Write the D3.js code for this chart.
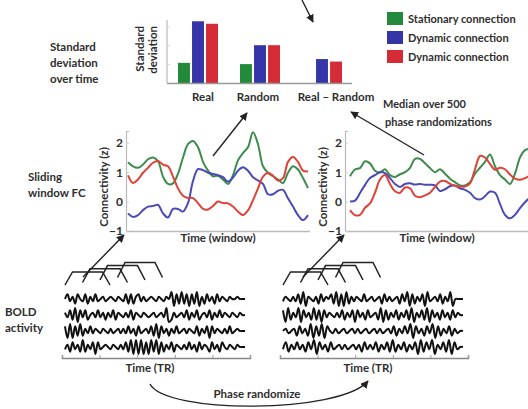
<!DOCTYPE html>
<html>
<head>
<meta charset="utf-8">
<style>
  body { margin: 0; background: #fff; }
  text { font-family: Lato, "Open Sans", sans-serif; font-weight: 700; fill: #2e2e2e; }
</style>
<script src="https://d3js.org/d3.v7.min.js"></script>
</head>
<body>
<script>
// ---- data ----
var groups = ["Real", "Random", "Real \u2013 Random"];
var series = ["Stationary connection", "Dynamic connection", "Dynamic connection "];
var seriesColors = ["#238a3c", "#3535a8", "#d42b37"];
var lineColors = ["#3f8b4c", "#4a4ab6", "#df4236"];
// standard deviation bars (relative units), one array per group
var sdReal = [0.32, 0.98, 0.94];
var sdRandom = [0.30, 0.60, 0.60];
var sdDiff = [0, 0.38, 0.34];
var groupLabelShift = [5, -2, 7];

// sliding window connectivity, real data
var realGreen = [1.34,1.2,1.15,1.26,1.44,1.5,1.38,0.85,0.6,0.62,0.95,1.5,1.95,2.06,1.85,1.35,1.05,0.86,0.88,0.75,0.6,0.9,1.4,1.65,1.85,2.36,1.95,1.2,0.98,0.86,0.75,0.63,0.98,1.2,1.09,0.8,0.46];
var realBlue = [-0.4,-0.52,-0.46,-0.29,-0.17,-0.15,-0.11,-0.4,-0.54,-0.25,-0.25,-0.34,-0.05,0.7,1.1,1.07,0.98,0.94,0.9,0.83,0.68,0.82,1.05,1.17,1.05,0.83,0.72,0.6,0.25,0.25,0.37,0.4,0.11,-0.17,-0.46,-0.63,-0.46];
var realRed = [0.89,0.63,0.75,0.98,1.15,1.32,1.38,1.26,1.2,0.85,0.45,0.2,0.12,0.12,-0.05,-0.25,-0.27,-0.15,0.0,-0.05,-0.06,-0.17,-0.34,-0.46,-0.3,0.05,0.45,0.85,0.97,0.88,0.72,0.8,1.35,1.52,1.35,1.05,1.03];
// sliding window connectivity, phase randomized
var randGreen = [0.86,1.09,1.14,1.37,1.3,1.05,0.99,1.1,0.9,0.84,0.93,1.0,1.15,1.45,1.45,1.3,1.14,1.0,1.1,0.95,0.78,0.66,0.55,0.55,0.66,0.95,1.15,1.35,1.6,1.2,0.9,0.75,0.6,0.95,1.5,1.75,1.8];
var randBlue = [0.0,0.03,0.29,0.57,0.8,0.9,1.0,0.97,0.8,0.6,0.5,0.6,0.62,0.58,0.6,0.57,0.57,0.55,0.36,0.42,0.52,0.55,0.45,0.4,0.3,0.12,0.07,0.18,0.34,0.3,-0.08,-0.45,-0.57,-0.45,-0.22,-0.02,0.13];
var randRed = [-0.29,-0.46,-0.45,-0.21,-0.06,0.3,0.75,0.9,0.6,0.35,0.3,0.48,0.45,0.2,0.15,0.21,0.3,0.5,0.68,0.7,0.6,0.53,0.51,0.51,0.62,1.1,1.55,1.5,1.28,1.08,1.15,1.1,0.92,0.78,0.74,0.8,0.88];
var connTicks = [-1, 0, 1, 2];

// BOLD traces (arbitrary units)
var boldReal = [
  [0,2,-1,1,-2,2,0,-1,2,-2,1,-1,2,-1,0,1,-1,0,1,0,-1,1,0,-1,2,-2,2,-2,1,2,-1,1,-1,0,1,0,-1,1,0,-1,1,0,3,-3,2,-2,3,-2,2,-3,2,-2,3,-3,1,-2,2,-1,1,-2,2,-1,1,0,-1,1,0,0,1,0,0,0],
  [1,-1,2,-2,3,-3,2,-1,2,-2,0,1,-1,2,-1,1,-2,1,-1,2,-2,1,0,-1,1,-1,2,-2,1,0,-1,1,0,-1,0,1,-1,0,1,-1,3,-3,-2,1,-1,0,1,-1,2,-2,1,-1,2,-2,0,1,-1,2,-2,1,-1,2,-1,1,0,-1,1,0,-1,1,0,0],
  [2,-3,3,-3,2,-2,3,-2,1,-1,2,-1,1,0,-1,1,0,-1,1,-1,0,1,-1,1,-1,2,-1,1,-2,2,-1,0,1,-1,2,-2,3,-3,2,-1,1,-2,1,-1,2,-1,0,1,-1,1,0,-1,2,-2,1,-1,2,-3,2,-1,1,0,-1,1,-1,2,-1,0,1,0,0,0],
  [-1,1,-2,2,-1,1,-2,3,-2,1,-1,2,-3,2,-1,0,1,0,-1,1,0,-1,1,-1,2,-2,3,-3,3,-3,3,-3,2,-3,3,-2,3,-3,2,-2,1,-1,2,-2,1,0,-1,1,-1,2,-1,1,-2,2,-1,1,0,-2,2,-1,1,-2,2,0,-1,1,0,-1,1,0,0,0]
];
var boldRand = [
  [-1,1,0,-1,1,-1,2,-2,3,-3,1,0,-1,1,-2,2,-1,1,0,2,-2,3,-3,2,-3,3,-2,1,-1,1,0,-1,2,-1,0,1,-1,0,1,-2,2,-1,1,-1,0,1,-2,2,-1,3,-3,2,-2,1,-1,2,-3,3,-1,0,1,-1,2,-2,1,-1,3,-3,0,0,0,0],
  [2,-3,3,-2,1,-1,3,-3,2,-1,1,-2,3,-2,2,-3,2,-1,1,0,-1,1,-1,2,-2,1,-1,2,-3,2,-1,1,-2,2,-1,0,1,-2,3,-3,2,-2,1,-1,2,-2,1,-1,2,-2,3,-3,1,-1,2,-2,3,-3,2,-1,1,-2,2,-1,1,-2,2,-1,1,0,0],
  [0,1,-1,0,1,-2,2,-1,1,-2,3,-3,2,-2,3,-3,2,0,-1,1,-1,0,1,-1,0,1,-1,1,-1,0,1,-1,0,1,-1,1,-1,0,1,-1,2,-2,1,-1,2,-1,3,-3,2,-1,1,-2,2,-1,3,-3,2,-2,1,-1,2,-2,1,-1,0,0],
  [-1,2,-2,1,-1,2,-1,1,-2,2,-1,3,-3,2,-1,1,-2,2,-1,0,1,-1,1,-1,0,1,-1,1,-2,2,-1,1,-1,2,-2,1,-1,2,-2,3,-2,1,-1,2,-2,1,-1,2,-3,3,-2,2,-1,3,-3,1,-1,2,-2,3,-3,2,-1,0,0]
];
// sliding windows: start (TR), and [foot, rise end, plateau end, fall end] offsets (TR)
var windowStarts = [0, 7, 14, 21];
var windowShape = [0, 3, 15, 18];

var W = 528, H = 409;
var svg = d3.select("body").append("svg").attr("width", W).attr("height", H);

var defs = svg.append("defs");
defs.append("marker").attr("id", "head").attr("viewBox", "0 0 10 10")
  .attr("refX", 9).attr("refY", 5).attr("markerWidth", 8).attr("markerHeight", 8)
  .attr("markerUnits", "userSpaceOnUse").attr("orient", "auto")
  .append("path").attr("d", "M0,0L10,5L0,10z").attr("fill", "#222");

function label(x, y, str, anchor, size) {
  return svg.append("text").attr("x", x).attr("y", y).attr("text-anchor", anchor || "start")
    .style("font-size", (size || 11) + "px").text(str);
}
function arrow(x1, y1, x2, y2) {
  svg.append("line").attr("x1", x1).attr("y1", y1).attr("x2", x2).attr("y2", y2)
    .attr("stroke", "#222").attr("stroke-width", 1.4).attr("marker-end", "url(#head)");
}

// ---- bar chart ----
var yBar = d3.scaleLinear().domain([0, 1]).range([83, 20]);
var xGroup = d3.scaleBand().domain(groups).range([172, 358]);
var xSeries = d3.scaleBand().domain(series).range([6, 46]).paddingInner(0.15);
var sdAll = [sdReal, sdRandom, sdDiff];

var barAxis = svg.append("g").attr("transform", "translate(167,0)")
  .call(d3.axisLeft(yBar).tickValues([0.3, 0.6, 0.9]).tickSize(-3).tickFormat(""));
barAxis.select(".domain").attr("stroke", "#aaa").attr("d", "M0,20V83");
barAxis.selectAll(".tick line").attr("stroke", "#ddd");

groups.forEach(function (g, gi) {
  var bars = sdAll[gi].map(function (v, i) { return { v: v, s: i }; })
    .filter(function (d) { return d.v > 0; });
  svg.append("g").selectAll("rect").data(bars).enter().append("rect")
    .attr("x", function (d) { return xGroup(g) + xSeries(series[d.s]); })
    .attr("y", function (d) { return yBar(d.v); })
    .attr("width", xSeries.bandwidth())
    .attr("height", function (d) { return yBar(0) - yBar(d.v); })
    .attr("fill", function (d) { return seriesColors[d.s]; });
  var cx = d3.mean(bars, function (d) { return xGroup(g) + xSeries(series[d.s]) + xSeries.bandwidth() / 2; });
  label(cx + groupLabelShift[gi], 101, g, "middle", 11.5);
});
svg.append("line").attr("x1", 167).attr("x2", 352).attr("y1", 83.5).attr("y2", 83.5)
  .attr("stroke", "#999").attr("stroke-width", 1.5);

svg.append("text").attr("transform", "translate(144,26) rotate(-90)").attr("text-anchor", "end")
  .style("font-size", "11.5px").text("Standard");
svg.append("text").attr("transform", "translate(157,26) rotate(-90)").attr("text-anchor", "end")
  .style("font-size", "11.5px").text("deviation");

label(50, 51, "Standard", "start", 11.5);
label(50, 67, "deviation", "start", 11.5);
label(50, 83, "over time", "start", 11.5);

// legend
var legend = svg.append("g").selectAll("g").data(series).enter().append("g")
  .attr("transform", function (d, i) { return "translate(387," + (12 + i * 19) + ")"; });
legend.append("rect").attr("width", 16).attr("height", 13)
  .attr("fill", function (d, i) { return seriesColors[i]; });
legend.append("text").attr("x", 21).attr("y", 11).style("font-size", "11px")
  .text(function (d) { return d.trim(); });

label(383, 108, "Median over 500");
label(385, 126, "phase randomizations");

// ---- sliding window FC ----
var yConn = d3.scaleLinear().domain([-1, 2.4]).range([231, 131]);
function connChart(x0, axisX, axisEnd, data) {
  var x = d3.scaleLinear().domain([0, data[0].length - 1]).range([x0, x0 + 180]);
  var g = svg.append("g");
  g.append("line").attr("x1", axisX).attr("x2", axisEnd).attr("y1", 231.5).attr("y2", 231.5)
    .attr("stroke", "#bbb").attr("stroke-width", 1.5);
  var ax = g.append("g").attr("transform", "translate(" + axisX + ",0)")
    .call(d3.axisLeft(yConn).tickValues(connTicks).tickSize(-3).tickPadding(3).tickFormat(d3.format("d")));
  ax.select(".domain").attr("stroke", "#bbb").attr("stroke-width", 1.2);
  ax.selectAll(".tick line").attr("stroke", "#ccc");
  ax.selectAll(".tick text").style("font-family", "Lato, sans-serif").style("font-weight", "700")
    .style("font-size", "12px").attr("fill", "#2e2e2e");
  var line = d3.line().x(function (d, i) { return x(i); }).y(function (d) { return yConn(d); })
    .curve(d3.curveCatmullRom);
  data.forEach(function (s, i) {
    g.append("path").datum(s).attr("d", line).attr("fill", "none")
      .attr("stroke", lineColors[i]).attr("stroke-width", 2);
  });
  g.append("text").attr("transform", "translate(" + (axisX - 18) + ",187) rotate(-90)")
    .attr("text-anchor", "middle").style("font-size", "11.5px").text("Connectivity (z)");
}
connChart(128, 126, 310, [realGreen, realBlue, realRed]);
connChart(350, 345, 528, [randGreen, randBlue, randRed]);
label(218, 242, "Time (window)", "middle", 11.5);
label(437, 242, "Time (window)", "middle", 11.5);

label(28, 181, "Sliding", "start", 11.5);
label(28, 197, "window FC", "start", 11.5);
label(5, 316, "BOLD", "start", 11.5);
label(5, 332, "activity", "start", 11.5);

// ---- BOLD panels ----
var rowY = [299, 315, 331, 347];
function boldPanel(x0, data) {
  var xTR = d3.scaleLinear().domain([0, 72]).range([x0, x0 + 180]);
  var g = svg.append("g");
  data.forEach(function (s, r) {
    var xs = d3.scaleLinear().domain([0, s.length - 1]).range([x0, x0 + 180]);
    var ys = d3.scaleLinear().domain([-3, 3]).range([rowY[r] + 7, rowY[r] - 7]);
    g.append("path").datum(s).attr("fill", "none").attr("stroke", "#111").attr("stroke-width", 2)
      .attr("stroke-linejoin", "round")
      .attr("d", d3.line().x(function (d, i) { return xs(i); }).y(function (d) { return ys(d); })
        .curve(d3.curveCatmullRom));
  });
  var ax = g.append("g").attr("transform", "translate(0,358)")
    .call(d3.axisBottom(d3.scaleLinear().domain([0, 5]).range([x0 - 3, x0 + 185])).ticks(5).tickSize(-3).tickFormat(""));
  ax.select(".domain").attr("stroke", "#888").attr("stroke-width", 1.5);
  ax.selectAll(".tick line").attr("stroke", "#999");
  // windows
  windowStarts.forEach(function (s, i) {
    var footY = 285 - 2.5 * i, topY = 272 - 3.2 * i;
    var pts = windowShape.map(function (o, k) { return [xTR(s + o), (k === 0 || k === 3) ? footY : topY]; });
    g.append("path").attr("d", d3.line()(pts)).attr("fill", "none").attr("stroke", "#222").attr("stroke-width", 1.5);
  });
  label(x0 + 85, 372, "Time (TR)", "middle", 11.5);
}
boldPanel(65, boldReal);
boldPanel(283, boldRand);

// ---- arrows ----
arrow(302, 0, 313, 22);
arrow(213, 156, 247, 113);
arrow(424, 155, 351, 112);
arrow(83, 277, 124, 235);
arrow(303, 277, 344, 235);
svg.append("path").attr("d", "M150,384C165,414 340,414 368,381").attr("fill", "none")
  .attr("stroke", "#222").attr("stroke-width", 1.4).attr("marker-end", "url(#head)");
label(257, 398, "Phase randomize", "middle", 11.5);
</script>
</body>
</html>
